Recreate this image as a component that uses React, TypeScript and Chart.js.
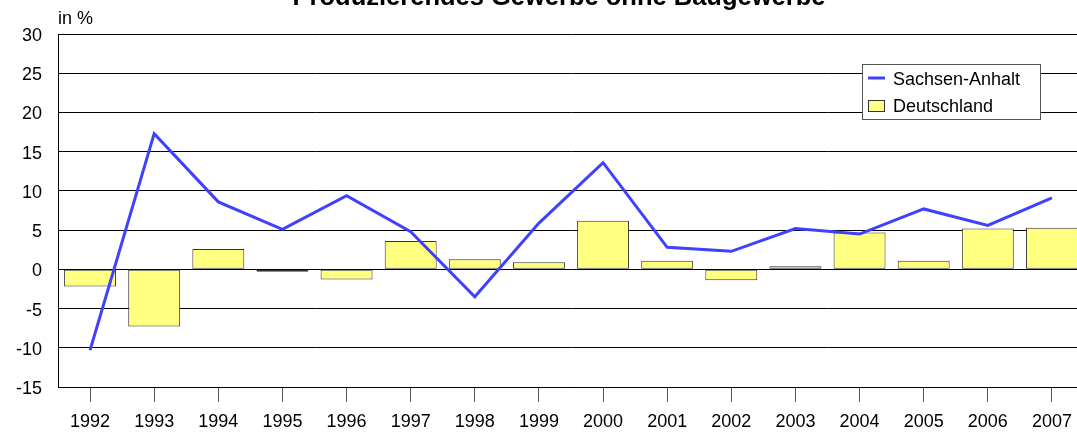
import React, { useEffect, useRef } from "react";
import { Chart, registerables } from "chart.js";

Chart.register(...registerables);

const years = ["1992", "1993", "1994", "1995", "1996", "1997", "1998", "1999", "2000", "2001", "2002", "2003", "2004", "2005", "2006", "2007"];
const sachsenAnhalt = [-10.3, 17.3, 8.6, 5.1, 9.4, 4.8, -3.5, 5.9, 13.6, 2.8, 2.3, 5.2, 4.5, 7.7, 5.6, 9.1];
const deutschland = [-2.2, -7.3, 2.6, -0.3, -1.3, 3.6, 1.3, 0.9, 6.2, 1.1, -1.4, 0.4, 4.7, 1.1, 5.2, 5.3];
const seriesNames = ["Sachsen-Anhalt", "Deutschland"];
const yMin = -15;
const yMax = 30;
const yStep = 5;
const titleText = "Produzierendes Gewerbe ohne Baugewerbe";
const unitText = "in %";

const FONT = "'Liberation Sans', Arial, Helvetica, sans-serif";
const LINE_COLOR = "#4040FF";
const BAR_COLOR = "#FFFF80";
const BAR_BORDER = "#333333";

const overlayPlugin = {
  id: "overlay",
  afterDraw(chart: any) {
    const ctx = chart.ctx as CanvasRenderingContext2D;
    ctx.save();
    // title (partly cut off at top)
    ctx.fillStyle = "#000";
    ctx.font = `bold 25.5px ${FONT}`;
    ctx.textAlign = "center";
    ctx.textBaseline = "alphabetic";
    ctx.fillText(titleText, 559, 4.5);

    // unit label
    ctx.font = `18px ${FONT}`;
    ctx.textAlign = "left";
    ctx.fillText(unitText, 58, 23.5);

    // legend box
    const bx = 862.5, by = 64.5, bw = 178, bh = 55;
    ctx.fillStyle = "#fff";
    ctx.fillRect(bx, by, bw, bh);
    ctx.strokeStyle = "#555";
    ctx.lineWidth = 1;
    ctx.strokeRect(bx, by, bw, bh);

    const ds = chart.data.datasets;
    // line sample
    ctx.strokeStyle = ds[0].borderColor;
    ctx.lineWidth = 3;
    ctx.beginPath();
    ctx.moveTo(868, 78);
    ctx.lineTo(885, 78);
    ctx.stroke();
    // bar sample
    ctx.fillStyle = ds[1].backgroundColor;
    ctx.fillRect(868.5, 100.5, 16, 11);
    ctx.strokeStyle = BAR_BORDER;
    ctx.lineWidth = 1;
    ctx.strokeRect(868.5, 100.5, 16, 11);

    ctx.fillStyle = "#000";
    ctx.font = `18px ${FONT}`;
    ctx.textAlign = "left";
    ctx.fillText(ds[0].label, 893, 85);
    ctx.fillText(ds[1].label, 893, 111.5);
    ctx.restore();
  },
};

export default function App() {
  const ref = useRef<HTMLCanvasElement | null>(null);

  useEffect(() => {
    if (!ref.current) return;
    const chart = new Chart(ref.current, {
      type: "bar",
      data: {
        labels: years,
        datasets: [
          {
            type: "line",
            label: seriesNames[0],
            data: sachsenAnhalt,
            borderColor: LINE_COLOR,
            backgroundColor: LINE_COLOR,
            borderWidth: 3,
            pointRadius: 0,
            tension: 0,
            fill: false,
            order: 0,
          } as any,
          {
            type: "bar",
            label: seriesNames[1],
            data: deutschland,
            backgroundColor: BAR_COLOR,
            borderColor: BAR_BORDER,
            borderWidth: 1,
            borderSkipped: false,
            categoryPercentage: 1,
            barPercentage: 0.81,
            order: 1,
          } as any,
        ],
      },
      options: {
        responsive: false,
        animation: false,
        events: [],
        layout: { padding: { top: 34, left: 0, right: 34, bottom: 0 } },
        plugins: {
          legend: { display: false },
          title: { display: false },
          tooltip: { enabled: false },
        },
        scales: {
          x: {
            type: "category",
            offset: true,
            grid: {
              offset: false,
              drawOnChartArea: false,
              drawTicks: true,
              tickLength: 15,
              color: "#555",
              lineWidth: 1,
            },
            border: { display: true, color: "#000", width: 1 },
            ticks: {
              color: "#000",
              font: { family: FONT, size: 18 },
              padding: 9,
              maxRotation: 0,
              autoSkip: false,
            },
            afterFit(scale: any) {
              scale.height = 47;
            },
          },
          y: {
            min: yMin,
            max: yMax,
            grid: {
              color: "#000",
              lineWidth: 1,
              drawTicks: false,
            },
            border: { display: true, color: "#000", width: 1 },
            ticks: {
              stepSize: yStep,
              color: "#000",
              font: { family: FONT, size: 18 },
              padding: 16,
              labelOffset: 2,
            },
            afterFit(scale: any) {
              scale.width = 58;
            },
          },
        },
      },
      plugins: [overlayPlugin],
    });
    return () => chart.destroy();
  }, []);

  return (
    <div
      style={{
        position: "fixed",
        left: 0,
        top: 0,
        width: 1077,
        height: 434,
        overflow: "hidden",
        background: "#fff",
      }}
    >
      <canvas ref={ref} width={1118} height={434} style={{ display: "block", width: 1118, height: 434 }} />
    </div>
  );
}
